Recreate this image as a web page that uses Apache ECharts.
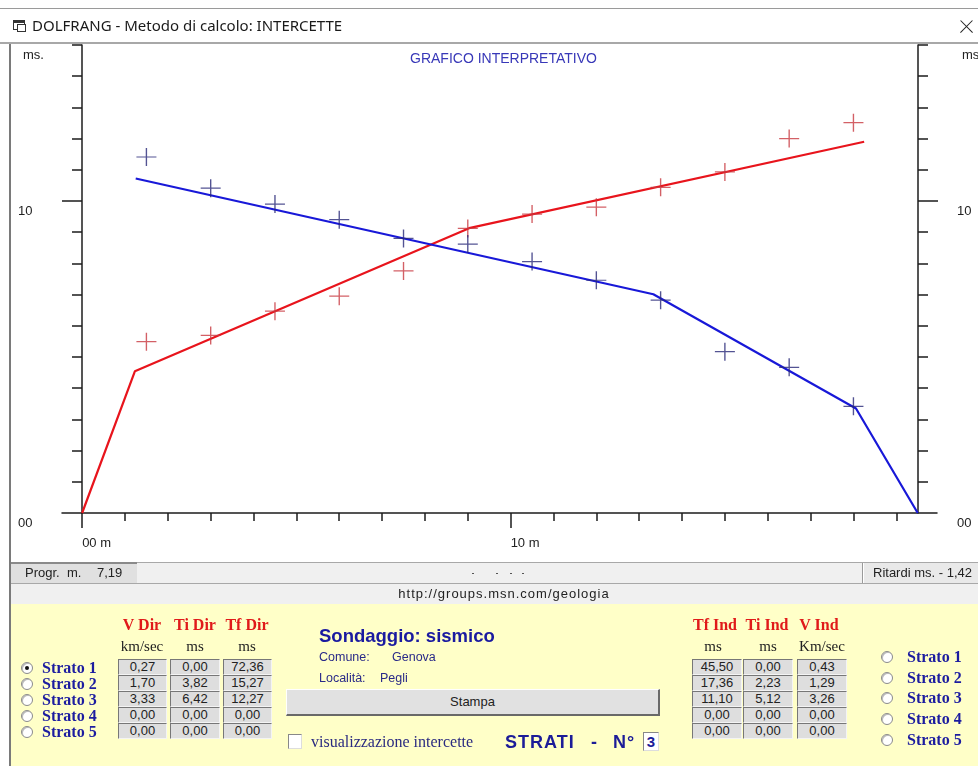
<!DOCTYPE html>
<html><head><meta charset="utf-8">
<script src="https://cdn.jsdelivr.net/npm/echarts@6/dist/echarts.min.js"></script>
<style>
html,body{margin:0;padding:0;width:978px;height:766px;overflow:hidden;background:#fff;}
#chart{position:absolute;left:0;top:0;width:978px;height:766px;z-index:1;}
#ui{position:absolute;left:0;top:0;width:978px;height:766px;z-index:2;pointer-events:none;}
</style></head><body>
<div id="chart"></div>
<div id="ui"></div>
<script>
// ---------------- DATA ----------------
const distances = [1.5, 3, 4.5, 6, 7.5, 9, 10.5, 12, 13.5, 15, 16.5, 18];
const directTimes = [5.49, 5.69, 6.47, 6.95, 7.76, 9.12, 9.58, 9.80, 10.44, 10.93, 12.00, 12.51];
const inverseTimes = [11.41, 10.41, 9.90, 9.40, 8.80, 8.62, 8.06, 7.46, 6.82, 5.17, 4.67, 3.42];
const directLineX = [0, 1.23, 9.03, 18.25];
const directLineT = [0, 4.54, 9.13, 11.90];
const inverseLineX = [1.25, 13.33, 18.06, 19.5];
const inverseLineT = [10.72, 7.01, 3.35, 0];
const xMinorTicks = [1, 2, 3, 4, 5, 6, 7, 8, 9, 11, 12, 13, 14, 15, 16, 17, 18, 19];
const xMajorTicks = [0, 10];
const xLabelValues = [0, 10];
const xLabelTexts = ['00 m', '10 m'];
const yMinorTicks = [1, 2, 3, 4, 5, 6, 7, 8, 9, 11, 12, 13, 14, 15];
const yMajorTicks = [10];
const yLabelValues = [0, 10, 15];
const yLabelTexts = ['00', '10', 'ms.'];

const strati = ['Strato 1', 'Strato 2', 'Strato 3', 'Strato 4', 'Strato 5'];
const vDir = ['0,27', '1,70', '3,33', '0,00', '0,00'];
const tiDir = ['0,00', '3,82', '6,42', '0,00', '0,00'];
const tfDir = ['72,36', '15,27', '12,27', '0,00', '0,00'];
const tfInd = ['45,50', '17,36', '11,10', '0,00', '0,00'];
const tiInd = ['0,00', '2,23', '5,12', '0,00', '0,00'];
const vInd = ['0,43', '1,29', '3,26', '0,00', '0,00'];

// ---------------- CHART ----------------
const F = '"Liberation Sans", Arial, sans-serif';
const AX = '#1c1c1c';
const xMin = -0.47, xMax = 19.95;
const chart = echarts.init(document.getElementById('chart'));
function yLabelFmt(v) {
  const i = yLabelValues.indexOf(v);
  if (i < 0) return '';
  return v === 15 ? '{u|' + yLabelTexts[i] + '}' : yLabelTexts[i];
}
const labelBase = {fontSize: 13, color: '#222', fontFamily: F, verticalAlign: 'top', lineHeight: 20,
  rich: {u: {padding: [0, 0, 0, 5], fontSize: 13, color: '#222', fontFamily: F, lineHeight: 20}}};
const crossPath = 'path://M10,0L10,20M0,10L20,10';
chart.setOption({
  animation: false,
  backgroundColor: '#ffffff',
  title: {text: 'GRAFICO INTERPRETATIVO', left: 405, top: 47,
    textStyle: {color: '#3838b8', fontSize: 14, fontWeight: 'normal', fontFamily: F}},
  grid: {left: 62, right: 41, top: 45, bottom: 253, containLabel: false, outerBoundsMode: 'none'},
  xAxis: [
    {type: 'value', min: xMin, max: xMax, position: 'bottom',
      axisLine: {onZero: false, lineStyle: {color: AX, width: 1.5}},
      axisTick: {customValues: xMinorTicks, length: 8, lineStyle: {color: AX, width: 1.5}},
      axisLabel: {customValues: xLabelValues, formatter: v => xLabelTexts[xLabelValues.indexOf(v)] || '',
        align: 'left', margin: 24, fontSize: 13, color: '#222', fontFamily: F},
      splitLine: {show: false}},
    {type: 'value', min: xMin, max: xMax, position: 'bottom',
      axisLine: {show: false},
      axisTick: {customValues: xMajorTicks, length: 15, lineStyle: {color: AX, width: 1.5}},
      axisLabel: {show: false}, splitLine: {show: false}}
  ],
  yAxis: [
    {type: 'value', min: 0, max: 15, position: 'left', offset: -20,
      axisLine: {show: true, onZero: false, lineStyle: {color: AX, width: 1.5}},
      axisTick: {customValues: yMinorTicks, length: 10, lineStyle: {color: AX, width: 1.5}},
      axisLabel: Object.assign({customValues: yLabelValues, formatter: yLabelFmt, align: 'left', margin: 64}, labelBase),
      splitLine: {show: false}},
    {type: 'value', min: 0, max: 15, position: 'right', offset: -19,
      axisLine: {show: true, onZero: false, lineStyle: {color: AX, width: 1.5}},
      axisTick: {customValues: yMinorTicks, length: 10, lineStyle: {color: AX, width: 1.5}},
      axisLabel: Object.assign({customValues: yLabelValues, formatter: yLabelFmt, align: 'left', margin: 39}, labelBase),
      splitLine: {show: false}},
    {type: 'value', min: 0, max: 15, position: 'left', offset: -20,
      axisLine: {show: false, onZero: false},
      axisTick: {customValues: yMajorTicks, length: 20, lineStyle: {color: AX, width: 1.5}},
      axisLabel: {show: false}, splitLine: {show: false}},
    {type: 'value', min: 0, max: 15, position: 'right', offset: -19,
      axisLine: {show: false, onZero: false},
      axisTick: {customValues: yMajorTicks, length: 20, lineStyle: {color: AX, width: 1.5}},
      axisLabel: {show: false}, splitLine: {show: false}}
  ],
  series: [
    {type: 'line', name: 'dir', data: directLineX.map((x, i) => [x, directLineT[i]]), showSymbol: false,
      lineStyle: {color: '#e8141c', width: 2.2}, z: 3, silent: true},
    {type: 'line', name: 'ind', data: inverseLineX.map((x, i) => [x, inverseLineT[i]]), showSymbol: false,
      lineStyle: {color: '#1818d8', width: 2.2}, z: 3, silent: true},
    {type: 'scatter', data: distances.map((x, i) => [x, directTimes[i]]), symbol: crossPath, symbolSize: [20, 18],
      itemStyle: {color: 'transparent', borderColor: '#c83840', borderWidth: 1.3}, z: 4, silent: true},
    {type: 'scatter', data: distances.map((x, i) => [x, inverseTimes[i]]), symbol: crossPath, symbolSize: [20, 18],
      itemStyle: {color: 'transparent', borderColor: '#282878', borderWidth: 1.3}, z: 4, silent: true}
  ]
});

// ---------------- WINDOW UI ----------------
const ui = document.getElementById('ui');
function box(x, y, w, h, css) {
  const d = document.createElement('div');
  d.style.cssText = `position:absolute;left:${x}px;top:${y}px;width:${w}px;height:${h}px;box-sizing:border-box;${css || ''}`;
  ui.appendChild(d); return d;
}
function txt(s, x, cy, css, anchor) {
  const d = document.createElement('div');
  d.textContent = s;
  d.style.cssText = `position:absolute;left:${x}px;top:${cy - 12}px;height:24px;line-height:24px;white-space:pre;${css || ''}`;
  if (anchor === 'c') d.style.transform = 'translateX(-50%)';
  ui.appendChild(d); return d;
}
const SANS = 'font-family:"Liberation Sans",Arial,sans-serif;';
const SERIF = 'font-family:"Liberation Serif","Times New Roman",serif;';

// title bar
box(0, 8, 978, 1, 'background:#9a9a9a');
box(13, 20, 12, 10, 'border:1.5px solid #333;border-top-width:3px;background:#fff');
box(17, 24, 9, 8, 'border:1px solid #333;background:#fff');
txt('DOLFRANG - Metodo di calcolo: INTERCETTE', 32, 25, 'font-family:"Noto Sans",sans-serif;font-size:15px;color:#1a1a1a');
box(958, 26, 17, 1.2, 'background:#222;transform:rotate(45deg)');
box(958, 26, 17, 1.2, 'background:#222;transform:rotate(-45deg)');
box(0, 42, 978, 2, 'background:#a8a8a8');
box(9, 44, 2, 722, 'background:#7a7a7a');

// status bar 1
box(11, 562, 967, 22, 'background:#f0f0f0;border-top:1px solid #a8a8a8;border-bottom:1px solid #a8a8a8');
box(11, 562, 126, 21, 'background:#e0e0e0;border-top:2px solid #8a8a8a');
txt('Progr.', 25, 573, SANS + 'font-size:13px;color:#222');
txt('m.', 67, 573, SANS + 'font-size:13px;color:#222');
txt('7,19', 97, 573, SANS + 'font-size:13px;color:#222');
[472, 496, 510, 522].forEach(x => box(x, 573, 2, 1, 'background:#555'));
box(862, 563, 2, 20, 'background:#9a9a9a;border-right:1px solid #fff');
box(864, 563, 114, 20, 'background:#e9e9e9');
txt('Ritardi ms. - 1,42', 873, 573, SANS + 'font-size:13px;color:#222');

// status bar 2
box(11, 584, 967, 20, 'background:#f0f0f0');
txt('http://groups.msn.com/geologia', 504, 594, SANS + 'font-size:13px;letter-spacing:1px;color:#222', 'c');

// yellow panel
box(11, 604, 967, 162, 'background:#ffffc8');

const rowTops = [659, 675, 691, 707, 723];
function valBox(x, w, y, s) {
  const d = box(x, y, w, 16, 'background:#dedede;border-top:1.5px solid #777;border-left:1.5px solid #777;border-bottom:1px solid #f4f4f4;border-right:1px solid #f4f4f4;' + SANS + 'font-size:13px;color:#222;text-align:center;line-height:14px');
  d.textContent = s;
}
const HDR = SERIF + 'font-size:16px;font-weight:bold;color:#e01a1a';
const UNIT = SERIF + 'font-size:15px;color:#222';
const STR = SERIF + 'font-size:16px;font-weight:bold;color:#1c1ca0';

// left table
const lCols = [[118, 49], [170, 50], [223, 49]];
txt('V Dir', 142, 625, HDR, 'c'); txt('Ti Dir', 195, 625, HDR, 'c'); txt('Tf Dir', 247, 625, HDR, 'c');
txt('km/sec', 142, 646, UNIT, 'c'); txt('ms', 195, 646, UNIT, 'c'); txt('ms', 247, 646, UNIT, 'c');
[vDir, tiDir, tfDir].forEach((col, c) => col.forEach((v, r) => valBox(lCols[c][0], lCols[c][1], rowTops[r], v)));
function radio(cx, cy, sel) {
  box(cx - 6, cy - 6, 12, 12, 'border-radius:50%;background:#fff;border:1px solid #8a8a8a;box-shadow:inset 1px 1px 0 #bbb');
  if (sel) box(cx - 2, cy - 2, 4, 4, 'border-radius:50%;background:#111');
}
strati.forEach((s, r) => {
  const cy = rowTops[r] + 9;
  radio(27, cy, r === 0);
  txt(s, 42, cy, STR);
});

// middle
txt('Sondaggio: sismico', 319, 636, SANS + 'font-size:18.5px;font-weight:bold;color:#1a1aa0');
txt('Comune:', 319, 657, SANS + 'font-size:12.5px;color:#2a2a88');
txt('Genova', 392, 657, SANS + 'font-size:12.5px;color:#2a2a88');
txt('Località:', 319, 678, SANS + 'font-size:12.5px;color:#2a2a88');
txt('Pegli', 380, 678, SANS + 'font-size:12.5px;color:#2a2a88');
const st = box(286, 689, 374, 27, 'background:#e1e1e1;border-top:1px solid #fff;border-left:1px solid #fff;border-bottom:2px solid #696969;border-right:2px solid #696969;' + SANS + 'font-size:13px;color:#222;text-align:center;line-height:24px');
st.textContent = 'Stampa';
box(288, 734, 14, 15, 'background:#fff;border-top:1.5px solid #888;border-left:1.5px solid #888;border-bottom:1px solid #ddd;border-right:1px solid #ddd');
txt('visualizzazione intercette', 311, 742, SERIF + 'font-size:16px;color:#2a2a80');
const STRT = SANS + 'font-size:18px;font-weight:bold;color:#1c1c98;letter-spacing:1px';
txt('STRATI', 505, 742, STRT);
txt('-', 591, 742, STRT);
txt('N°', 613, 742, STRT);
const nb = box(643, 732, 16, 19, 'background:#fff;border-top:1.5px solid #888;border-left:1.5px solid #888;border-bottom:1px solid #ddd;border-right:1px solid #ddd;' + SANS + 'font-size:15px;font-weight:bold;color:#1c1c98;text-align:center;line-height:17px');
nb.textContent = '3';

// right table
const rCols = [[692, 50], [743, 50], [797, 50]];
txt('Tf Ind', 715, 625, HDR, 'c'); txt('Ti Ind', 767, 625, HDR, 'c'); txt('V Ind', 819, 625, HDR, 'c');
txt('ms', 713, 646, UNIT, 'c'); txt('ms', 768, 646, UNIT, 'c'); txt('Km/sec', 822, 646, UNIT, 'c');
[tfInd, tiInd, vInd].forEach((col, c) => col.forEach((v, r) => valBox(rCols[c][0], rCols[c][1], rowTops[r], v)));
const rRadioY = [657, 678, 698, 719, 740];
strati.forEach((s, r) => {
  radio(887, rRadioY[r], false);
  txt(s, 907, rRadioY[r], STR);
});
</script>
</body></html>
